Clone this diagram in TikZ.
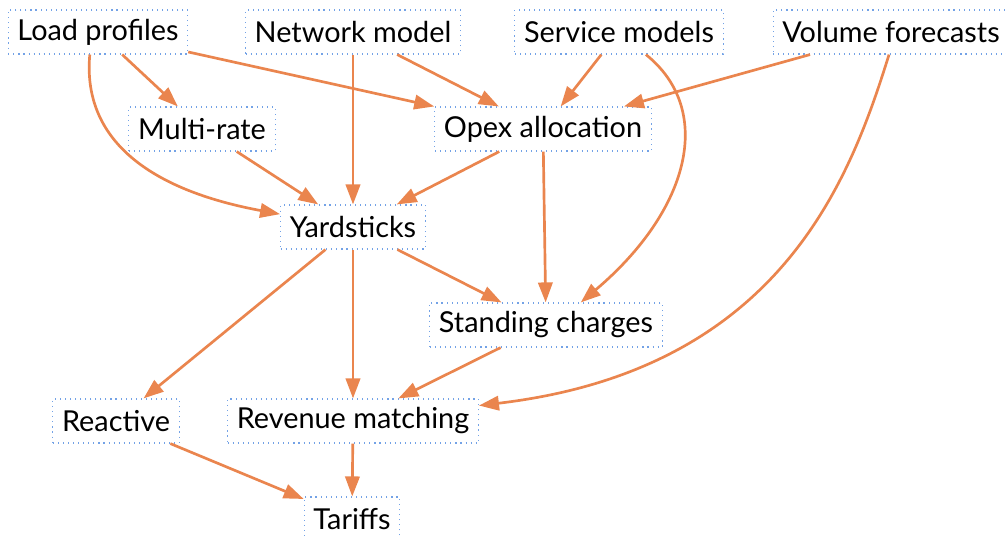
\documentclass[tikz,border=0pt]{standalone}
\usepackage{fontspec}
\setmainfont{Lato}
\usetikzlibrary{arrows.meta}

\definecolor{linkorange}{RGB}{234,133,78}
\definecolor{boxblue}{RGB}{115,162,230}

\begin{document}
\begin{tikzpicture}[x=0.025cm, y=-0.025cm,
    box/.style={draw=boxblue, dash pattern=on 0.8pt off 2.8pt, line width=0.8pt,
        minimum height=1.1cm, inner xsep=0.23cm, font=\fontsize{20.5}{24}\selectfont},
    link/.style={draw=linkorange, line width=1.9pt,
        -{Triangle[length=0.5cm, width=0.36cm, fill=linkorange]}}]
    \useasboundingbox (0,0) rectangle (1006,535);

    % Inputs along the top
    \node[box] (loadprof) at (98,32) {Load profiles};
    \node[box] (netmodel) at (353,32) {Network model};
    \node[box] (servmod) at (619,32) {Service models};
    \node[box] (volfore) at (891,32) {Volume forecasts};

    % Middle steps
    \node[box] (multirate) at (202,129) {Multi-rate};
    \node[box] (opex) at (543,129) {Opex allocation};
    \node[box] (yard) at (353,227) {Yardsticks};
    \node[box] (standing) at (546,325) {Standing charges};

    % Bottom steps
    \node[box] (reactive) at (116,421) {Reactive};
    \node[box] (revmatch) at (353,421) {Revenue matching};
    \node[box] (tariffs) at (352,519) {Tariffs};

    % Links out of the inputs
    \draw[link] (loadprof) -- (multirate);
    \draw[link] (loadprof) -- (opex.north west);
    \draw[link] (loadprof.250) .. controls (82,140) and (150,190) .. (yard.170);
    \draw[link] (netmodel) -- (yard);
    \draw[link] (netmodel) -- (opex);
    \draw[link] (servmod) -- (opex);
    \draw[link] (servmod.320) .. controls (715,110) and (690,210) .. (standing.33);
    \draw[link] (volfore) -- (opex);
    \draw[link] (volfore.265) .. controls (850,180) and (780,370) .. (revmatch.7);

    % Links between the steps
    \draw[link] (multirate) -- (yard);
    \draw[link] (opex) -- (yard);
    \draw[link] (opex) -- (standing);
    \draw[link] (yard) -- (standing);
    \draw[link] (yard) -- (reactive);
    \draw[link] (yard) -- (revmatch);
    \draw[link] (standing) -- (revmatch);
    \draw[link] (reactive) -- (tariffs);
    \draw[link] (revmatch) -- (tariffs);

\end{tikzpicture}
\end{document}
